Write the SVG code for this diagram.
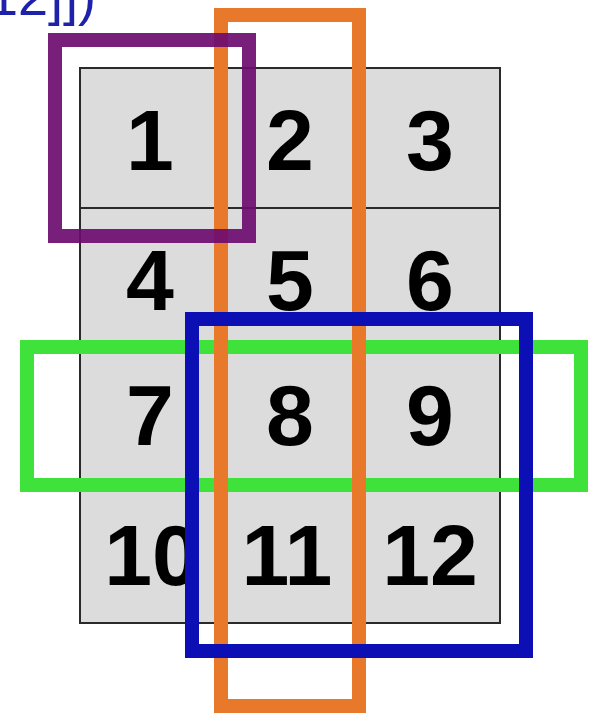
<svg xmlns="http://www.w3.org/2000/svg" width="590" height="718" viewBox="0 0 590 718">
  <style>
    .cell { fill: #dcdcdc; stroke: #2a2a2a; stroke-width: 2; }
    .num { font-family: "Liberation Sans", Arial, sans-serif; font-weight: bold; font-size: 86px; fill: #000; text-anchor: middle; }
    .code { font-family: "Liberation Sans", Arial, sans-serif; font-size: 54px; fill: #1e22aa; }
    .sel { fill: none; stroke-width: 14; }
  </style>
  <rect width="590" height="718" fill="#ffffff"/>
  <text class="code" x="-12" y="15">12]])</text>
  <g id="grid">
    <g id="cell-1"><rect class="cell" x="80" y="68" width="140" height="140"/><text class="num" x="150" y="170">1</text></g>
    <g id="cell-2"><rect class="cell" x="220" y="68" width="140" height="140"/><text class="num" x="290" y="170">2</text></g>
    <g id="cell-3"><rect class="cell" x="360" y="68" width="140" height="140"/><text class="num" x="430" y="170">3</text></g>
    <g id="cell-4"><rect class="cell" x="80" y="208" width="140" height="138"/><text class="num" x="150" y="310">4</text></g>
    <g id="cell-5"><rect class="cell" x="220" y="208" width="140" height="138"/><text class="num" x="290" y="310">5</text></g>
    <g id="cell-6"><rect class="cell" x="360" y="208" width="140" height="138"/><text class="num" x="430" y="310">6</text></g>
    <g id="cell-7"><rect class="cell" x="80" y="346" width="140" height="139"/><text class="num" x="150" y="445">7</text></g>
    <g id="cell-8"><rect class="cell" x="220" y="346" width="140" height="139"/><text class="num" x="290" y="445">8</text></g>
    <g id="cell-9"><rect class="cell" x="360" y="346" width="140" height="139"/><text class="num" x="430" y="445">9</text></g>
    <g id="cell-10"><rect class="cell" x="80" y="485" width="140" height="138"/><text class="num" x="152" y="585">10</text></g>
    <g id="cell-11"><rect class="cell" x="220" y="485" width="140" height="138"/><text class="num" x="287" y="585">11</text></g>
    <g id="cell-12"><rect class="cell" x="360" y="485" width="140" height="138"/><text class="num" x="430" y="585">12</text></g>
  </g>
  <g id="selections">
    <g id="sel-green"><rect class="sel" x="27" y="347" width="554" height="138" stroke="#3ee23a"/></g>
    <g id="sel-orange"><rect class="sel" x="221" y="15" width="138" height="691" stroke="#e8782a"/></g>
    <g id="sel-blue"><rect class="sel" x="192" y="319" width="334" height="332" stroke="#0c10b4"/></g>
    <g id="sel-purple"><rect class="sel" x="55" y="40" width="194" height="196" stroke="#6c0c70" stroke-opacity="0.92"/></g>
  </g>
</svg>
